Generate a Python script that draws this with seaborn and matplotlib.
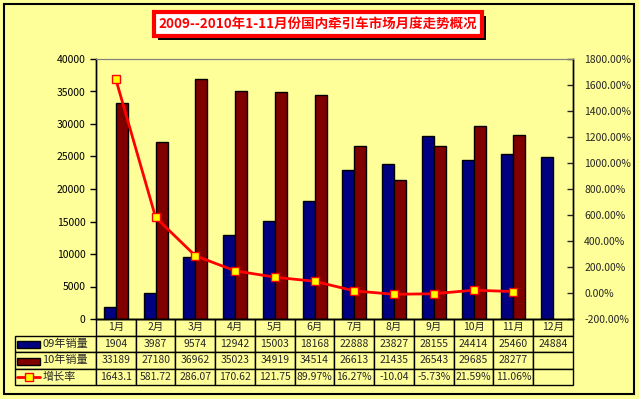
import numpy as np
import pandas as pd
import seaborn as sns
import matplotlib
matplotlib.use("Agg")
import matplotlib.pyplot as plt
from matplotlib import patheffects
from matplotlib.patches import Rectangle
from matplotlib.lines import Line2D
from matplotlib.ticker import FuncFormatter, MultipleLocator

months = ["1月", "2月", "3月", "4月", "5月", "6月", "7月", "8月", "9月", "10月", "11月", "12月"]
sales_09 = [1904, 3987, 9574, 12942, 15003, 18168, 22888, 23827, 28155, 24414, 25460, 24884]
sales_10 = [33189, 27180, 36962, 35023, 34919, 34514, 26613, 21435, 26543, 29685, 28277, np.nan]
growth = [1643.1, 581.72, 286.07, 170.62, 121.75, 89.97, 16.27, -10.04, -5.73, 21.59, 11.06]
growth_txt = ["1643.1", "581.72", "286.07", "170.62", "121.75", "89.97%",
              "16.27%", "-10.04", "-5.73%", "21.59%", "11.06%", ""]
series = ["09年销量", "10年销量"]

BG = "#FFFF99"
NAVY = "#000080"
MAROON = "#800000"

sns.set_style("ticks")
plt.rcParams["font.family"] = ["Noto Sans CJK SC", "DejaVu Sans"]
plt.rcParams["axes.unicode_minus"] = False

df = pd.DataFrame({
    "month": months * 2,
    "sales": sales_09 + sales_10,
    "year": [series[0]] * 12 + [series[1]] * 12,
})

fig = plt.figure(figsize=(6.39, 3.99), dpi=100, facecolor=BG)
ax = fig.add_axes([96 / 639, 1 - 319 / 399, 477 / 639, 260 / 399])
ax.set_facecolor(BG)

sns.barplot(data=df, x="month", y="sales", hue="year", palette=[NAVY, MAROON],
            saturation=1, width=0.6, edgecolor="black", linewidth=1, legend=False, ax=ax)
ax.set_ylim(0, 40000)
ax.yaxis.set_major_locator(MultipleLocator(5000))
ax.set_xlabel("")
ax.set_ylabel("")
ax.set_xticks([])
ax.tick_params(axis="y", direction="out", length=4, width=1, labelsize=7.5, colors="black")

ax2 = ax.twinx()
sns.lineplot(x=list(range(len(growth))), y=growth, ax=ax2, color="red", linewidth=2,
             marker="s", markersize=6, markerfacecolor="yellow", markeredgecolor="red",
             markeredgewidth=1)
ax2.set_ylim(-200, 1800)
ax2.yaxis.set_major_locator(MultipleLocator(200))
ax2.yaxis.set_major_formatter(FuncFormatter(lambda v, p: f"{v:.2f}%"))
ax2.tick_params(axis="y", direction="in", length=4, width=1, labelsize=7.5, pad=8)
ax2.set_ylabel("")
ax.set_xlim(-0.5, 11.5)

for a in (ax, ax2):
    for s in ("left", "right", "bottom"):
        a.spines[s].set_color("black")
        a.spines[s].set_linewidth(1)
    a.spines["top"].set_color("#808080")
    a.spines["top"].set_visible(True)
    a.spines["right"].set_visible(True)

# data table under the chart (bbox covers the data columns, row labels sit left of it)
cell_text = [[str(v) for v in sales_09],
             [("" if np.isnan(v) else str(int(v))) for v in sales_10],
             growth_txt]
row_labels = series + ["增长率"]
tbl = ax.table(cellText=cell_text, rowLabels=row_labels, colLabels=months,
               cellLoc="center", rowLoc="left", colWidths=[1 / 12] * 12,
               bbox=[0, -66 / 260, 1, 66 / 260])
tbl._autoColumns = []
tbl.auto_set_font_size(False)
tbl.set_fontsize(7.5)
for (r, c), cell in tbl.get_celld().items():
    cell.set_facecolor(BG)
    cell.set_edgecolor("black")
    cell.set_linewidth(1)
    if c == -1:
        cell.set_width(81 / 477)
        cell.PAD = 0.34
        cell.get_text().set_fontsize(8)

# legend keys in the row label cells
row_y = [(319 - 344.5) / 260, (319 - 361) / 260, (319 - 377) / 260]
kx0, kw = (17 - 96) / 477, 23 / 477
for yc, col in zip(row_y[:2], [NAVY, MAROON]):
    ax.add_patch(Rectangle((kx0, yc - 3.5 / 260), kw, 7 / 260, transform=ax.transAxes,
                           facecolor=col, edgecolor="black", linewidth=1, clip_on=False,
                           zorder=5))
ax.add_line(Line2D([kx0, kx0 + kw], [row_y[2], row_y[2]], transform=ax.transAxes,
                   color="red", linewidth=2, clip_on=False, zorder=5))
ax.add_line(Line2D([kx0 + kw / 2], [row_y[2]], transform=ax.transAxes, marker="s",
                   markersize=6, markerfacecolor="yellow", markeredgecolor="red",
                   clip_on=False, zorder=6))

# title box with shadow
t = fig.text(318 / 639, 1 - 24 / 399, "2009--2010年1-11月份国内牵引车市场月度走势概况",
             ha="center", va="center", color="red", fontsize=9.7, fontweight="bold",
             bbox=dict(boxstyle="square,pad=0.35", facecolor="white", edgecolor="red",
                       linewidth=3))
t.get_bbox_patch().set_path_effects([
    patheffects.withSimplePatchShadow(offset=(3, -3), shadow_rgbFace="black", alpha=1)])

# outer frame
fig.add_artist(Rectangle((4 / 639, 5 / 399), 630 / 639, 390 / 399, transform=fig.transFigure,
                         fill=False, edgecolor="black", linewidth=1.5))

fig.savefig("out.png", dpi=100, facecolor=BG)
